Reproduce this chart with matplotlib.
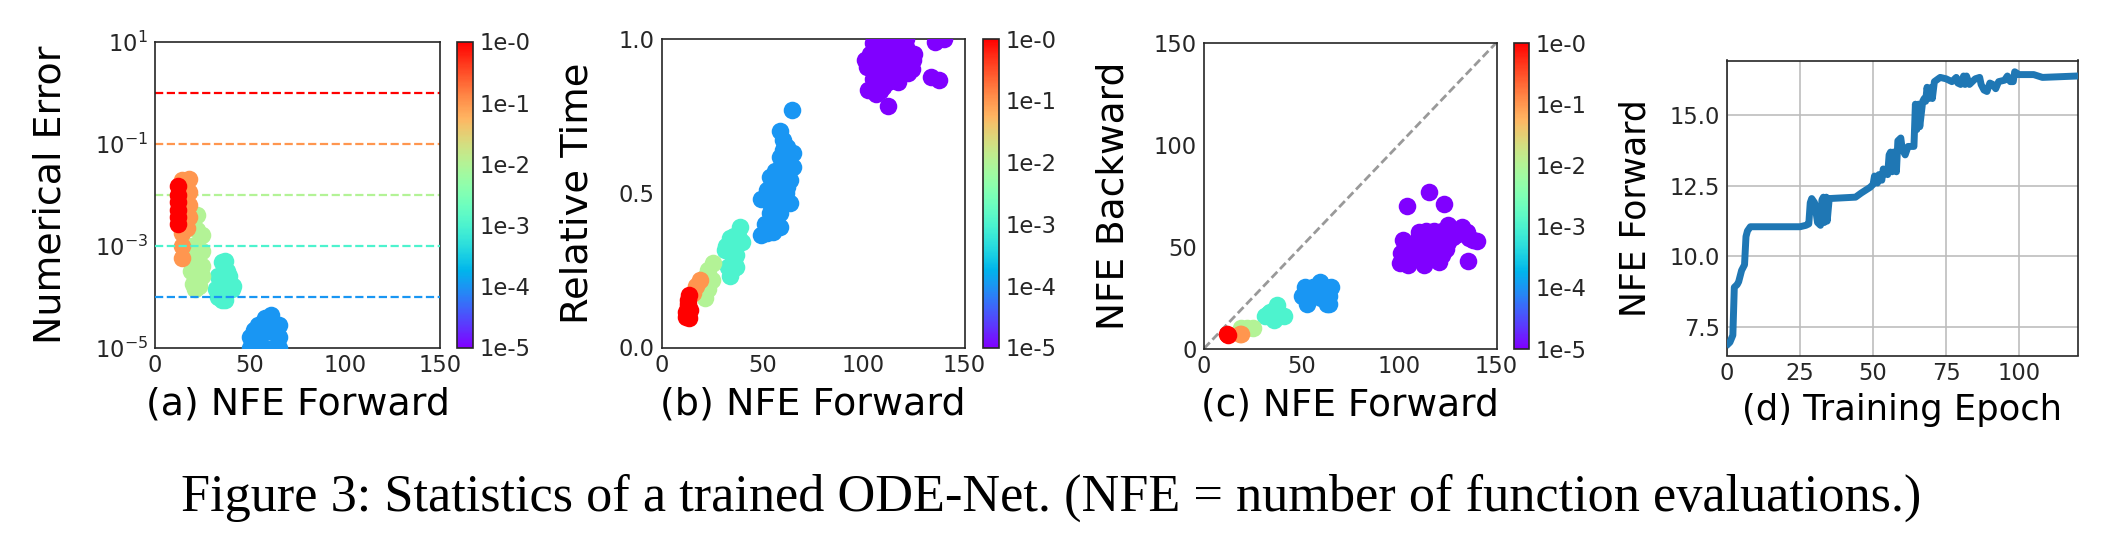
import matplotlib
matplotlib.use('Agg')
import matplotlib.pyplot as plt

W, H = 2116, 554

tol_exp = [-4, -3, -2, -1, 0]
cbar_ticks = [-5, -4, -3, -2, -1, 0]
cbar_labels = ['1e-5', '1e-4', '1e-3', '1e-2', '1e-1', '1e-0']
x_ticks = [0, 50, 100, 150]
y_ticks_c = [0, 50, 100, 150]
y_ticks_b = [0.0, 0.5, 1.0]
y_ticks_a = [1e-5, 1e-3, 1e-1, 1e1]

# (a) nfe forward vs. log10 numerical error, one list per tolerance
a_x = {
    -4: [50, 50, 54, 54, 54, 58, 58, 58, 61, 62, 62, 65, 65, 65, 52],
    -3: [35, 37, 35, 38, 39, 41, 40.5, 32, 35, 38, 35.5, 37, 33, 33],
    -2: [22, 24.8, 24.8, 24.8, 24.8, 22, 22, 22, 19, 19, 20, 21, 23, 22, 19.5],
    -1: [14, 18, 18, 18, 18, 17, 15, 15, 14, 14, 14],
    0: [12, 12.3, 12, 12, 12.2, 12.3],
}
a_y = {
    -4: [-4.8, -5, -4.55, -4.8, -5, -4.42, -4.7, -5, -4.37, -4.7, -5, -4.55, -4.8, -5, -4.65],
    -3: [-3.32, -3.3, -3.6, -3.5, -3.6, -3.8, -3.85, -3.85, -3.85, -3.85, -4.07, -4.07, -4.0, -3.6],
    -2: [-2.4, -2.8, -3.1, -3.4, -3.6, -3, -3.3, -3.6, -3.2, -3.5, -3.75, -3.85, -3.8, -2.7, -3.0],
    -1: [-1.72, -1.7, -1.95, -2.2, -2.45, -2.65, -2.0, -2.4, -2.75, -3.0, -3.24],
    0: [-1.83, -2.0, -2.15, -2.3, -2.45, -2.57],
}

# (b) nfe forward vs. relative time
b_x = {
    -5: [100.7, 104.6, 112.9, 124.4, 121, 135.5, 140, 133.5, 137.6, 112.2, 102.3,
         106.4, 104.6, 114.7, 122, 111.4, 101.5, 109.7, 118, 105, 108, 110, 115, 118,
         105, 110, 115, 120, 108, 112, 117, 105, 125, 108, 103, 121, 110, 115, 105, 137,
         124],
    -4: [64.7, 58.6, 60, 58.6, 65, 65, 53.6, 63.5, 52, 49.5, 63.5, 55, 58.6, 51,
         58.6, 49.5, 55, 53.6, 58.6, 59.4, 60, 62, 60, 56, 62, 58, 60, 54, 56, 53, 55,
         57, 52, 53, 63, 62, 61, 56, 61.5],
    -3: [38.8, 33.8, 40, 31.3, 35.5, 37, 34, 36, 33, 36, 38, 36, 35, 33, 32, 37],
    -2: [25.6, 22, 21.5, 25, 23, 23],
    -1: [19, 15.7, 17],
    0: [13.5, 13, 12, 12, 13.5, 13, 14, 13, 12.5],
}
b_y = {
    -5: [0.93, 0.985, 0.985, 0.93, 0.973, 0.99, 1.0, 0.874, 0.865, 0.78, 0.833,
         0.822, 0.87, 0.876, 0.887, 0.93, 0.908, 0.844, 0.94, 0.95, 0.98, 0.95, 0.97, 0.98,
         0.90, 0.90, 0.90, 0.90, 0.86, 0.86, 0.86, 0.84, 0.95, 0.83, 0.95, 1.0, 1.0, 1.0,
         1.0, 1.0, 0.90],
    -4: [0.77, 0.70, 0.67, 0.617, 0.628, 0.585, 0.553, 0.542, 0.51, 0.48, 0.467,
         0.477, 0.53, 0.40, 0.39, 0.364, 0.375, 0.434, 0.434, 0.574, 0.64, 0.60, 0.56,
         0.57, 0.52, 0.50, 0.47, 0.51, 0.45, 0.47, 0.42, 0.40, 0.37, 0.40, 0.62, 0.65,
         0.59, 0.53, 0.50],
    -3: [0.39, 0.353, 0.343, 0.316, 0.283, 0.262, 0.23, 0.36, 0.32, 0.32, 0.36, 0.28,
         0.25, 0.26, 0.33, 0.30],
    -2: [0.273, 0.23, 0.16, 0.22, 0.25, 0.19],
    -1: [0.22, 0.175, 0.20],
    0: [0.17, 0.14, 0.115, 0.10, 0.095, 0.13, 0.12, 0.155, 0.11],
}

# (c) nfe forward vs. nfe backward
c_x = {
    -5: [104.2, 115.4, 123.3, 125, 132.5, 140, 135.3, 135.7, 102, 100.3, 104.8, 112.7,
         120.7, 108.3, 115.4, 124, 110, 117, 127.7, 101, 113.6, 105, 110, 115, 120, 108,
         112, 117, 122, 106, 110, 114, 118, 122, 127, 120, 125, 130, 128, 135, 138, 102,
         103],
    -4: [51.8, 59.7, 65, 50, 52.6, 63.3, 57, 64, 53, 62, 56, 60, 64],
    -3: [37.3, 31.4, 35.9, 41.2, 34, 33, 36, 38],
    -2: [25.3, 18.8, 22],
    -1: [18.7, 19],
    0: [12, 12.5],
}
c_y = {
    -5: [70, 76.9, 70.8, 60.6, 59.7, 52.9, 42.9, 54, 53, 41.8, 41, 41, 42.6, 48.3, 48,
         49, 57, 57, 54.8, 46.7, 53, 50, 50, 52, 52, 44, 45, 44, 46, 46, 55, 57.5, 57.5,
         57.5, 57.5, 56, 52, 56, 58, 57, 53, 45, 50],
    -4: [30, 32.8, 30, 25.5, 22, 22, 27, 25.5, 25, 30, 30, 25, 22],
    -3: [21.4, 15.7, 14, 15.7, 18, 17, 18.5, 16],
    -2: [10, 10, 10],
    -1: [7, 7],
    0: [7, 6.5],
}

# (d) training curve
epoch = [0.5, 1, 2, 2.5, 3.5, 4, 5, 6, 6.5, 7, 8, 10, 25, 27, 28, 28.5, 29, 30, 31, 32,
         32.5, 33, 33.3, 34, 34.3, 35, 44, 46, 49, 50, 50.5, 51.5, 52, 53, 53.5, 54.5,
         55, 55.5, 56, 56.5, 57, 58, 58.5, 59.5, 60, 61, 62, 64, 64.5, 65, 65.5, 66,
         67, 67.5, 68, 68.5, 69, 70, 70.3, 71, 73, 75, 77, 78.5, 79, 80, 81, 81.5, 82,
         83, 85, 86.5, 87, 88, 89, 90, 91, 92, 93, 95, 96, 97, 98, 98.5, 100, 105, 108,
         120]
nfe = [6.9, 6.95, 7.2, 8.9, 9.0, 9.1, 9.5, 9.7, 10.7, 10.9, 11.05, 11.05, 11.05, 11.1,
       11.15, 11.9, 12.05, 11.9, 11.2, 11.1, 12.0, 12.1, 11.2, 12.1, 11.25, 12.05, 12.1,
       12.25, 12.45, 12.55, 12.85, 12.6, 12.9, 12.7, 13.1, 13.0, 12.9, 13.6, 13.7, 13.0,
       13.7, 13.0, 14.1, 14.2, 13.8, 13.6, 13.9, 13.9, 15.4, 14.5, 15.4, 14.6, 15.5, 15.6,
       15.5, 16.0, 15.6, 16.0, 15.6, 16.2, 16.35, 16.3, 16.2, 16.35, 16.15, 16.1, 16.4,
       16.1, 16.4, 16.1, 16.3, 16.35, 16.1, 15.9, 15.85, 16.15, 16.1, 15.95, 16.2, 16.25,
       16.4, 16.2, 16.2, 16.55, 16.45, 16.45, 16.35, 16.4]

TICK = 16.3
DARK = '#262626'
norm = plt.Normalize(-5, 0)
cmap = plt.get_cmap('rainbow')

plt.rcParams['font.family'] = 'DejaVu Sans'
plt.rcParams['axes.edgecolor'] = DARK
plt.rcParams['axes.linewidth'] = 1.2

fig = plt.figure(figsize=(W / 100, H / 100), dpi=100)


def px_axes(left, right, top, bottom):
    return fig.add_axes([left / W, 1 - bottom / H, (right - left) / W, (bottom - top) / H])


def scatter_panel(ax, xs, ys):
    for k in sorted(xs):
        ax.scatter(xs[k], ys[k], s=160, color=cmap(norm(k)), linewidths=0, zorder=3)
    ax.set_xlim(0, 150)
    ax.set_xticks(x_ticks)
    ax.tick_params(length=0, labelsize=TICK, labelcolor=DARK, pad=5)


def add_cbar(left, right, top, bottom):
    cax = px_axes(left, right, top, bottom)
    cb = fig.colorbar(plt.cm.ScalarMappable(norm=norm, cmap=cmap), cax=cax)
    cb.set_ticks(cbar_ticks)
    cb.set_ticklabels(cbar_labels)
    cb.ax.tick_params(length=0, labelsize=TICK, labelcolor=DARK, pad=5)


def labels(ax, xtext, ytext, xsize, ysize, xlabel_py, ylabel_px):
    # label centres given in figure pixels
    box = ax.get_position()
    left, right = box.x0 * W, box.x1 * W
    top, bottom = (1 - box.y1) * H, (1 - box.y0) * H
    ax.set_xlabel(xtext, fontsize=xsize, va='center')
    ax.set_ylabel(ytext, fontsize=ysize, va='center')
    ax.xaxis.set_label_coords(0.5, (bottom - xlabel_py) / (bottom - top))
    ax.yaxis.set_label_coords((ylabel_px - left) / (right - left), 0.5)


# (a)
ax = px_axes(155, 440, 41.5, 347.5)
a_ys = {k: [10.0 ** v for v in a_y[k]] for k in a_y}
scatter_panel(ax, a_x, a_ys)
ax.set_yscale('log')
ax.set_ylim(1e-5, 1e1)
ax.set_yticks(y_ticks_a)
ax.minorticks_off()
for k in tol_exp:
    ax.axhline(10.0 ** k, color=cmap(norm(k)), ls='--', lw=1.6, zorder=4 if k <= -3 else 2)
labels(ax, '(a) NFE Forward', 'Numerical Error', 27.3, 27.3, 405, 51)
add_cbar(457, 472.5, 41.5, 347.5)

# (b)
ax = px_axes(661.5, 964.5, 38.5, 347.5)
scatter_panel(ax, b_x, b_y)
ax.set_ylim(0, 1)
ax.set_yticks(y_ticks_b)
labels(ax, '(b) NFE Forward', 'Relative Time', 27.4, 27.6, 405, 578)
add_cbar(982.5, 999, 38.5, 347.5)

# (c)
ax = px_axes(1204, 1496.5, 42.5, 348.5)
scatter_panel(ax, c_x, c_y)
ax.plot(x_ticks, x_ticks, color='gray', ls=(0, (3, 1.4)), lw=2, alpha=0.8, zorder=2)
ax.set_ylim(0, 150)
ax.set_yticks(y_ticks_c)
labels(ax, '(c) NFE Forward', 'NFE Backward', 27, 27, 405, 1113)
add_cbar(1513.5, 1529, 42.5, 348.5)

# (d)
ax = px_axes(1727, 2077.5, 60.5, 355.5)
ax.plot(epoch, nfe, color='#1f77b4', lw=5, zorder=3)
ax.set_xlim(0, 120)
ax.set_ylim(6.48, 16.95)
ax.set_xticks([0, 25, 50, 75, 100])
ax.set_yticks([7.5, 10.0, 12.5, 15.0])
ax.grid(True, color='#bdbdbd', lw=1.2)
ax.tick_params(length=0, labelsize=TICK, labelcolor=DARK, pad=5)
labels(ax, '(d) Training Epoch', 'NFE Forward', 25.4, 24.9, 410, 1636)

fig.text(1051 / W, 1 - 498 / H, 'Figure 3: Statistics of a trained ODE-Net. (NFE = number of function evaluations.)',
         family='Liberation Serif', fontsize=37.6, ha='center', va='center', color='black')

fig.savefig('out.png', dpi=100)
